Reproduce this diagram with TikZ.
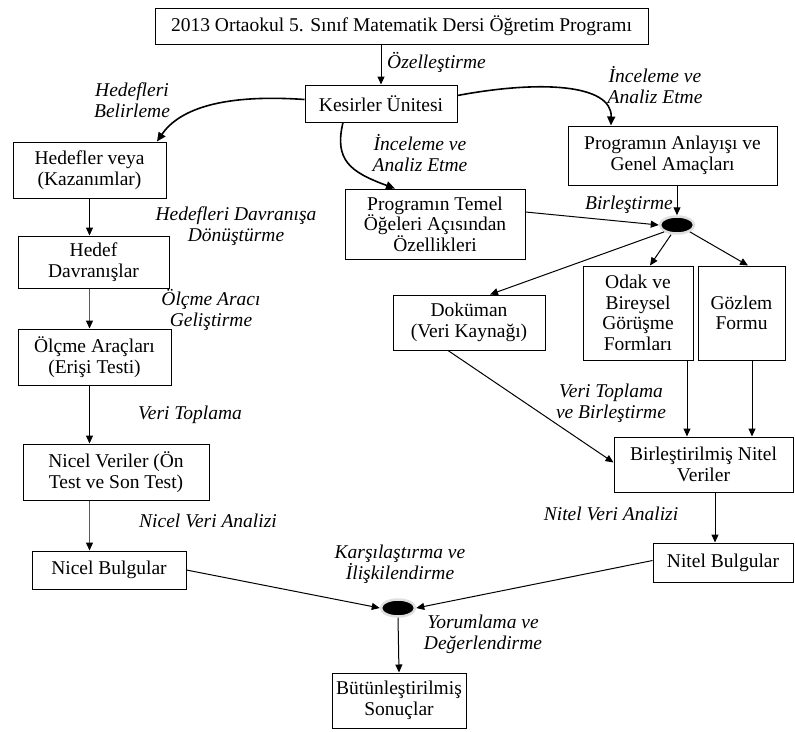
\documentclass[tikz,border=0pt]{standalone}
\usepackage{fontspec}
\setmainfont{Liberation Serif}
\usetikzlibrary{arrows.meta,shapes.geometric}
\begin{document}
\begin{tikzpicture}[x=1pt,y=-1pt,
  box/.style={draw, line width=1pt, inner sep=0pt, align=center, font=\fontsize{19.5}{20.5}\selectfont},
  lbl/.style={align=center, font=\fontsize{19.5}{21}\selectfont\itshape, inner sep=0pt},
  arr/.style={line width=1pt, -{Triangle[length=8pt,width=7pt,color=black]}},
  garr/.style={arr, draw=gray!70!black, line width=1.3pt},
  carr/.style={line width=1.6pt, -{Triangle[length=9pt,width=8pt]}},
  jdot/.style={ellipse, fill=black, draw=gray!25, line width=2.5pt, minimum width=34pt, minimum height=17pt, inner sep=0pt}
]
\useasboundingbox (0,0) rectangle (795,731);

% boxes
\node[box, minimum width=493pt, minimum height=36pt] (title) at (401.5,26) {2013 Ortaokul 5. Sınıf Matematik Dersi Öğretim Programı};
\node[box, minimum width=152pt, minimum height=37pt] (kes) at (381,103.5) {Kesirler Ünitesi};
\node[box, minimum width=153pt, minimum height=56pt] (hed) at (89.5,170) {Hedefler veya\\(Kazanımlar)};
\node[box, minimum width=151pt, minimum height=52pt] (hdav) at (93.5,262) {Hedef\\Davranışlar};
\node[box, minimum width=153pt, minimum height=56pt] (olc) at (94.5,357) {Ölçme Araçları\\(Erişi Testi)};
\node[box, minimum width=186pt, minimum height=56pt] (nver) at (116,472) {Nicel Veriler (Ön\\Test ve Son Test)};
\node[box, minimum width=154pt, minimum height=38pt] (nbul) at (109,570) {Nicel Bulgular};
\node[box, minimum width=209pt, minimum height=59pt] (anl) at (672.5,155.5) {Programın Anlayışı ve\\Genel Amaçları};
\node[box, minimum width=180pt, minimum height=70pt] (tem) at (435,224) {Programın Temel\\Öğeleri Açısından\\Özellikleri};
\node[box, minimum width=152pt, minimum height=55pt] (dok) at (469,322.5) {Doküman\\(Veri Kaynağı)};
\node[box, minimum width=110pt, minimum height=94pt] (odak) at (638,313) {Odak ve\\Bireysel\\Görüşme\\Formları};
\node[box, minimum width=87pt, minimum height=94pt] (goz) at (741.5,313) {Gözlem\\Formu};
\node[box, minimum width=179pt, minimum height=55pt] (bnv) at (703.5,464.5) {Birleştirilmiş Nitel\\Veriler};
\node[box, minimum width=140pt, minimum height=39pt] (nitb) at (723,562.5) {Nitel Bulgular};
\node[box, minimum width=134pt, minimum height=55pt] (but) at (399,700.5) {Bütünleştirilmiş\\Sonuçlar};

% junctions
\node[jdot] (j1) at (677,225) {};
\node[jdot] (j2) at (398,608) {};

% labels
\node[lbl, anchor=west] (l1) at (387,62) {Özelleştirme};
\node[lbl] (l2) at (132,100) {Hedefleri\\Belirleme};
\node[lbl] (l3) at (655,85) {İnceleme ve\\Analiz Etme};
\node[lbl] (l4) at (420,153) {İnceleme ve\\Analiz Etme};
\node[lbl] (l5) at (236,226) {Hedefleri Davranışa\\Dönüştürme};
\node[lbl] (l6) at (211,310) {Ölçme Aracı\\Geliştirme};
\node[lbl] (l7) at (190,415) {Veri Toplama};
\node[lbl] (l8) at (208,521) {Nicel Veri Analizi};
\node[lbl] (l9) at (629,205) {Birleştirme};
\node[lbl] (l10) at (611,403) {Veri Toplama\\ve Birleştirme};
\node[lbl] (l11) at (611,514) {Nitel Veri Analizi};
\node[lbl] (l12) at (400,564) {Karşılaştırma ve\\İlişkilendirme};
\node[lbl] (l13) at (483,634) {Yorumlama ve\\Değerlendirme};

% connectors
\draw[arr] (kes.north |- title.south) -- (kes.north);
\draw[carr] ([yshift=4pt]kes.west) .. controls (225,94) and (180,108) .. ([xshift=67.5pt]hed.north);
\draw[carr] ([yshift=8pt]kes.east) .. controls (540,80) and (612,84) .. ([xshift=-61.5pt]anl.north);
\draw[carr] ([xshift=-38pt]kes.south) .. controls (334,160) and (350,172) .. ([xshift=-40pt]tem.north);

\draw[arr] (hed.south) -- (hed.south |- hdav.north);
\draw[garr] (hed.south |- hdav.south) -- (hed.south |- olc.north);
\draw[arr] (hed.south |- olc.south) -- (hed.south |- nver.north);
\draw[garr] (hed.south |- nver.south) -- (hed.south |- nbul.north);

\draw[arr] (j1 |- anl.south) -- (j1.north);
\draw[arr] ([yshift=12pt]tem.east) -- (j1.west);
\draw[arr] (j1.south west) -- ([xshift=21pt]dok.north);
\draw[arr] ([xshift=-6pt]j1.south) -- ([xshift=12pt]odak.north);
\draw[arr] (j1.south east) -- ([xshift=6.5pt]goz.north);

\draw[arr] ([xshift=49pt]odak.south) -- ([xshift=49pt]odak.south |- bnv.north);
\draw[arr] ([xshift=10.5pt]goz.south) -- ([xshift=10.5pt]goz.south |- bnv.north);
\draw[arr] ([xshift=-21pt]dok.south) -- ([yshift=2pt]bnv.west);
\draw[arr] ([xshift=11.5pt]bnv.south) -- ([xshift=11.5pt]bnv.south |- nitb.north);

\draw[arr] (nbul.east) -- (j2.west);
\draw[arr] ([yshift=2pt]nitb.west) -- (j2.east);
\draw[arr] (j2.south) -- (but.north);
\end{tikzpicture}
\end{document}
